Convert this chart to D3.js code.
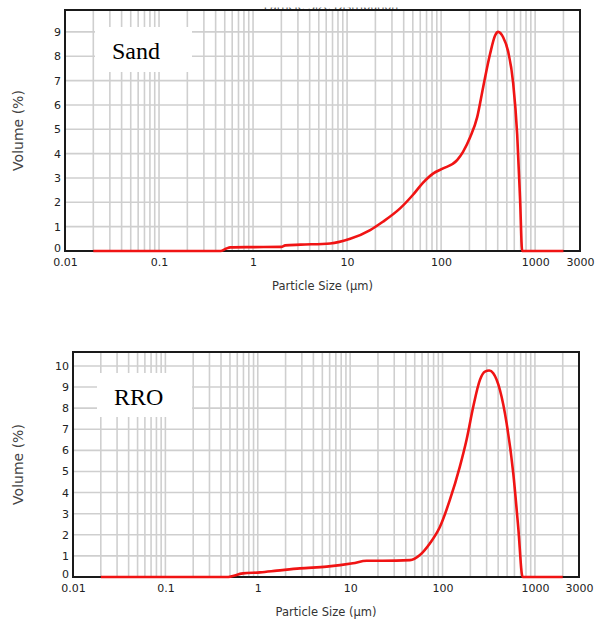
<!DOCTYPE html>
<html>
<head>
<meta charset="utf-8">
<script src="https://cdn.jsdelivr.net/npm/d3@7"></script>
<style>
  body { margin: 0; background: #fff; }
  svg { display: block; }
</style>
</head>
<body>
<svg class="chart" width="595" height="619"></svg>
<script>
// particle size (µm) and volume (%)
var sandSize = [0.02, 0.45, 0.52, 0.57, 1, 2.0, 2.2, 3.2, 6.6, 10.8, 17.6, 24, 36.6, 50, 64, 82, 105, 148, 171, 204, 242, 280, 332, 375, 404, 457, 516, 584, 644, 692, 728, 2000];
var sandVol  = [0, 0, 0.1, 0.15, 0.16, 0.17, 0.23, 0.26, 0.31, 0.5, 0.86, 1.2, 1.75, 2.3, 2.8, 3.18, 3.39, 3.73, 4.07, 4.68, 5.5, 6.73, 8.1, 8.85, 9.0, 8.78, 8.2, 6.9, 4.8, 2.1, 0, 0];

var rroSize = [0.02, 0.46, 0.69, 1.06, 1.61, 2.86, 5.57, 10.7, 15.1, 22.6, 44.4, 56.9, 73.1, 93.8, 120, 154, 182, 215, 254, 288, 320, 354, 418, 494, 583, 659, 736, 2000];
var rroVol  = [0, 0, 0.17, 0.22, 0.3, 0.41, 0.49, 0.65, 0.77, 0.77, 0.8, 1.04, 1.6, 2.38, 3.65, 5.23, 6.5, 8.07, 9.34, 9.73, 9.78, 9.65, 8.86, 7.28, 4.91, 2.38, 0, 0];

var xTicks = [0.01, 0.1, 1, 10, 100, 1000, 3000];
var sandYTicks = d3.range(0, 10);
var rroYTicks = d3.range(0, 11);

var svg = d3.select(".chart");

// faint remnant of a cut-off title above the first plot
svg.append("clipPath").attr("id", "titleClip")
  .append("rect").attr("x", 0).attr("y", 7.5).attr("width", 595).attr("height", 3);
svg.append("text")
  .attr("clip-path", "url(#titleClip)")
  .attr("x", 331).attr("y", 10)
  .attr("text-anchor", "middle")
  .style("font", "11px 'DejaVu Sans', sans-serif")
  .attr("fill", "#555")
  .text("Particle Size Distribution");

function panel(opts) {
  var x = d3.scaleLog().domain([0.01, 3000]).range([opts.left, opts.right]);
  var y = d3.scaleLinear().domain([0, opts.yMax]).range([opts.bottom, opts.top]);
  var g = svg.append("g");

  // minor + major log grid
  var gridX = [];
  for (var e = -2; e <= 3; e++) {
    for (var m = 1; m <= 9; m++) {
      var v = m * Math.pow(10, e);
      if (v > 0.01 && v < 3000) gridX.push(v);
    }
  }
  g.append("g").selectAll("line").data(gridX).enter().append("line")
    .attr("x1", (d) => x(d)).attr("x2", (d) => x(d))
    .attr("y1", opts.top).attr("y2", opts.bottom)
    .attr("stroke", "#cfcfcf").attr("stroke-width", 1.6);
  g.append("g").selectAll("line").data(opts.yTicks.filter((d) => d > 0)).enter().append("line")
    .attr("x1", opts.left).attr("x2", opts.right)
    .attr("y1", (d) => y(d)).attr("y2", (d) => y(d))
    .attr("stroke", "#cfcfcf").attr("stroke-width", 1.6);

  // label box
  g.append("rect")
    .attr("x", opts.box[0]).attr("y", opts.box[1])
    .attr("width", opts.box[2]).attr("height", opts.box[3])
    .attr("fill", "#fff");
  g.append("text")
    .attr("x", opts.box[0] + 17).attr("y", opts.box[1] + 32)
    .style("font", "24px 'Liberation Serif', 'Times New Roman', serif")
    .attr("fill", "#000")
    .text(opts.name);

  // frame
  g.append("rect")
    .attr("x", opts.left).attr("y", opts.top)
    .attr("width", opts.right - opts.left).attr("height", opts.bottom - opts.top)
    .attr("fill", "none").attr("stroke", "#1a1a1a").attr("stroke-width", 2);

  var line = d3.line()
    .curve(d3.curveMonotoneX)
    .x((d) => x(d[0]))
    .y((d) => y(d[1]));
  g.append("path")
    .datum(d3.zip(opts.sizes, opts.vols))
    .attr("d", line)
    .attr("fill", "none")
    .attr("stroke", "#f01414")
    .attr("stroke-width", 2.6)
    .attr("stroke-linejoin", "round");

  var xAxis = g.append("g")
    .attr("transform", "translate(0," + opts.bottom + ")")
    .call(d3.axisBottom(x).tickValues(xTicks).tickSize(0).tickPadding(7).tickFormat(d3.format("~g")));
  xAxis.select(".domain").remove();
  xAxis.selectAll("text").style("font", "11px 'DejaVu Sans', sans-serif").attr("fill", "#222");

  var yAxis = g.append("g")
    .attr("transform", "translate(" + opts.left + ",0)")
    .call(d3.axisLeft(y).tickValues(opts.yTicks).tickSize(0).tickPadding(4).tickFormat(d3.format("d")));
  yAxis.select(".domain").remove();
  yAxis.selectAll("text").style("font", "11px 'DejaVu Sans', sans-serif").attr("fill", "#222");
  // the zero label sits tight against the corner, lift it clear of "0.01"
  yAxis.selectAll("text").filter((d) => d === 0).attr("dy", "0.05em");

  g.append("text")
    .attr("transform", "translate(23," + ((opts.top + opts.bottom) / 2) + ") rotate(-90)")
    .attr("text-anchor", "middle")
    .style("font", "14px 'DejaVu Sans', sans-serif")
    .attr("fill", "#444")
    .text("Volume (%)");

  g.append("text")
    .attr("x", (opts.left + opts.right) / 2).attr("y", opts.bottom + 39)
    .attr("text-anchor", "middle")
    .style("font", "11.5px 'DejaVu Sans', sans-serif")
    .attr("fill", "#333")
    .text("Particle Size (µm)");
}

panel({ name: "Sand", left: 65, right: 580, top: 10, bottom: 251, yMax: 9.9,
  yTicks: sandYTicks, sizes: sandSize, vols: sandVol, box: [95, 27, 97, 45] });
panel({ name: "RRO", left: 73, right: 579, top: 352, bottom: 577, yMax: 10.66,
  yTicks: rroYTicks, sizes: rroSize, vols: rroVol, box: [97, 373, 95, 44] });
</script>
</body>
</html>
